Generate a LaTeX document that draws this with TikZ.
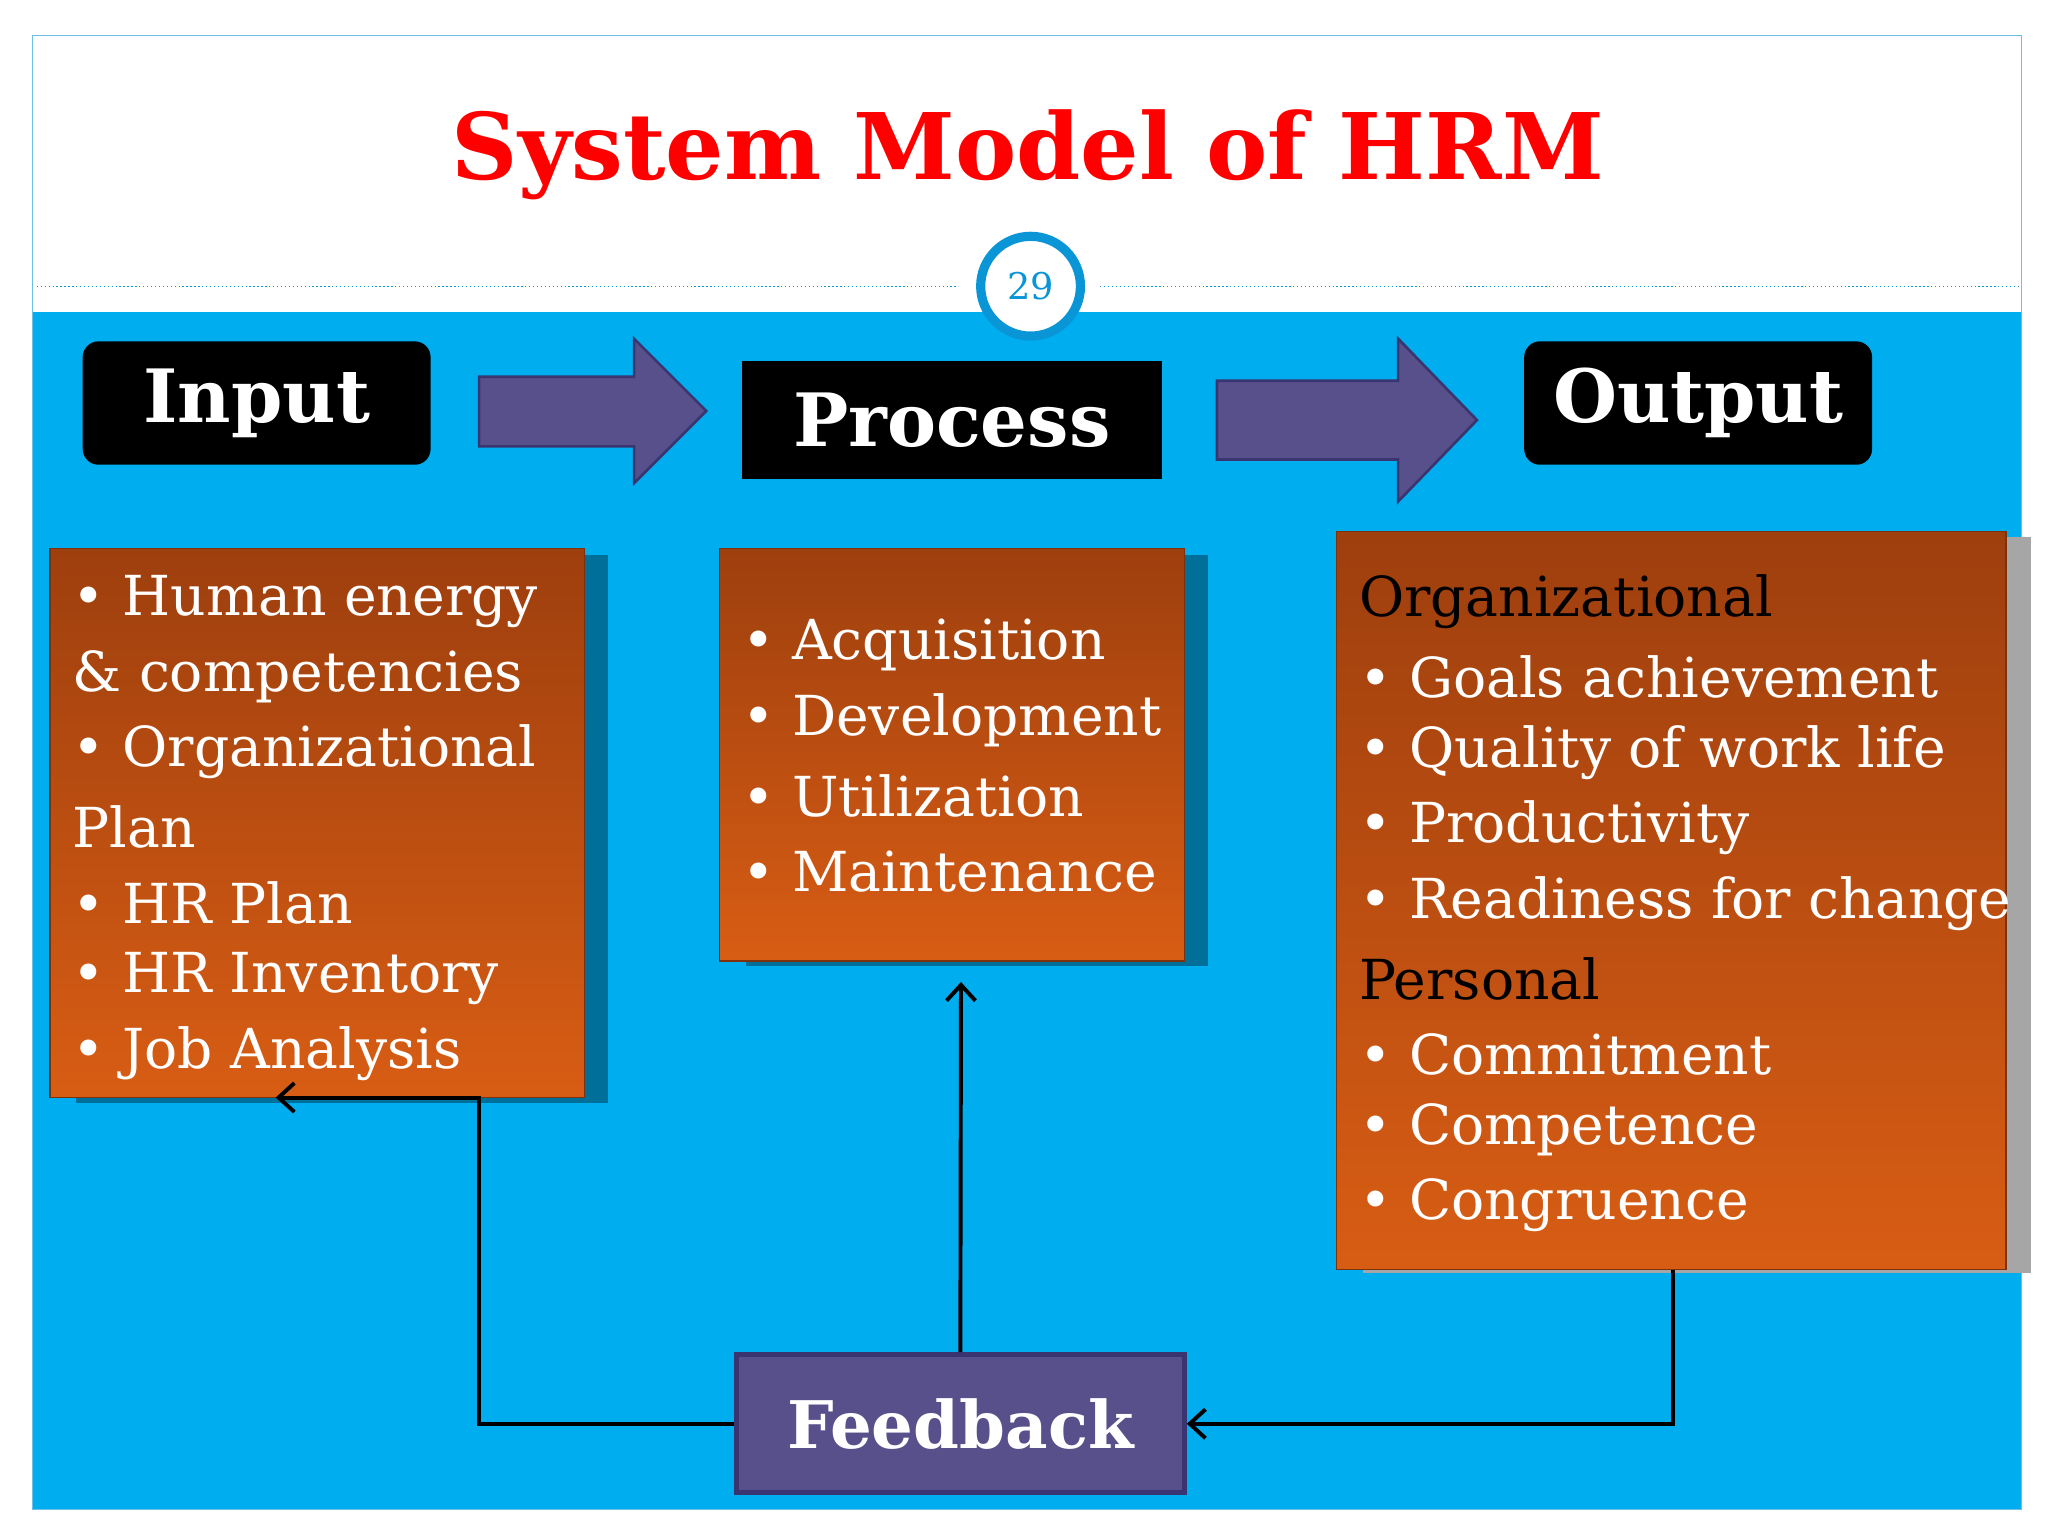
\documentclass[tikz,border=0pt]{standalone}
\usepackage{fontspec}
\setmainfont{DejaVu Serif}
\usetikzlibrary{arrows.meta}
\definecolor{sky}{HTML}{00AEEF}
\definecolor{ring}{HTML}{0A96D6}
\definecolor{purp}{HTML}{58508A}
\definecolor{purpd}{HTML}{3A3570}
\definecolor{ortop}{HTML}{9E3F0E}
\definecolor{orbot}{HTML}{D85D14}
\definecolor{shad}{HTML}{00709A}
\begin{document}
\begin{tikzpicture}[x=1pt,y=-1pt,
  hdr/.style={fill=black,text=white,font=\bfseries\fontsize{56}{60}\selectfont},
  bigarrow/.style={fill=purp,draw=purpd,line width=2pt},
  listbox/.style={shading=axis,top color=ortop,bottom color=orbot,draw=ortop!80!black,line width=1pt},
  itm/.style={anchor=west,text=white,inner sep=0pt,font=\fontsize{42}{48}\selectfont},
  cat/.style={itm,text=black},
  fb/.style={line width=3pt,-{Straight Barb[length=12pt,width=22pt,line width=3pt]}}]
\useasboundingbox (0,0) rectangle (1560,1170);
\fill[white] (0,0) rectangle (1560,1170);
\fill[sky] (25,238) rectangle (1540,1150);
\draw[ring!60,line width=1pt] (25,27) rectangle (1540,1150);
\draw[ring,dotted,line width=1pt] (28,218) -- (730,218);
\draw[ring,dotted,line width=1pt] (838,218) -- (1538,218);
\node[text=red,font=\bfseries\fontsize{70}{80}\selectfont] (title) at (783,118) {System Model of HRM};
\node[circle,fill=white,draw=ring,line width=7pt,minimum size=76pt,text=ring,font=\fontsize{28}{30}\selectfont] (pg) at (785,218) {29};
% headers
\node[hdr,rounded corners=12pt,minimum width=265pt,minimum height=94pt] (in) at (195.5,307) {Input};
\node[hdr,minimum width=320pt,minimum height=90pt] (pr) at (725,320) {Process};
\node[hdr,rounded corners=12pt,minimum width=265pt,minimum height=94pt] (out) at (1293.5,307) {Output};
\draw[bigarrow] (365,287) -- (483,287) -- (483,258) -- (538,313) -- (483,368) -- (483,340) -- (365,340) -- cycle;
\draw[bigarrow] (927,290) -- (1065,290) -- (1065,258) -- (1125,320) -- (1065,382) -- (1065,350) -- (927,350) -- cycle;
% list boxes
\fill[shad] (58,423) rectangle (463,840);
\path[listbox] (38,418) rectangle (445,836);
\coordinate (inb) at (210,836);
\fill[shad] (568,423) rectangle (920,736);
\path[listbox] (548,418) rectangle (902,732);
\coordinate (prb) at (732,748);
\fill[gray!70] (1038,409) rectangle (1547,970);
\path[listbox] (1018,405) rectangle (1528,967);
\coordinate (outb) at (1274,967);
\foreach \t [count=\i from 0] in {• Human energy,\& competencies,• Organizational,Plan,• HR Plan,• HR Inventory,• Job Analysis}
  \node[itm] (il\i) at (55,458+57.4*\i) {\t};
\foreach \t [count=\i from 0] in {• Acquisition,• Development,• Utilization,• Maintenance}
  \node[itm] (pl\i) at (565,491+57.6*\i) {\t};
\node[cat] (o0) at (1035,458) {Organizational};
\foreach \t [count=\i from 1] in {• Goals achievement,• Quality of work life,• Productivity,• Readiness for change}
  \node[itm] (ol\i) at (1035,458+57.5*\i) {\t};
\node[cat] (o5) at (1035,745.5) {Personal};
\foreach \t [count=\i from 6] in {• Commitment,• Competence,• Congruence}
  \node[itm] (ol\i) at (1035,458+57.5*\i) {\t};
% feedback
\node[fill=purp,draw=purpd,line width=4pt,minimum width=341pt,minimum height=105pt,text=white,font=\bfseries\fontsize{50}{56}\selectfont] (fbk) at (731.5,1084.5) {Feedback};
\draw[fb] (fbk.west) -- (365,1084.5) -- (365,836) -- (inb);
\draw[fb] (fbk.north) -- (prb);
\draw[fb] (outb) -- (1274,1084.5) -- (fbk.east);
\end{tikzpicture}
\end{document}
